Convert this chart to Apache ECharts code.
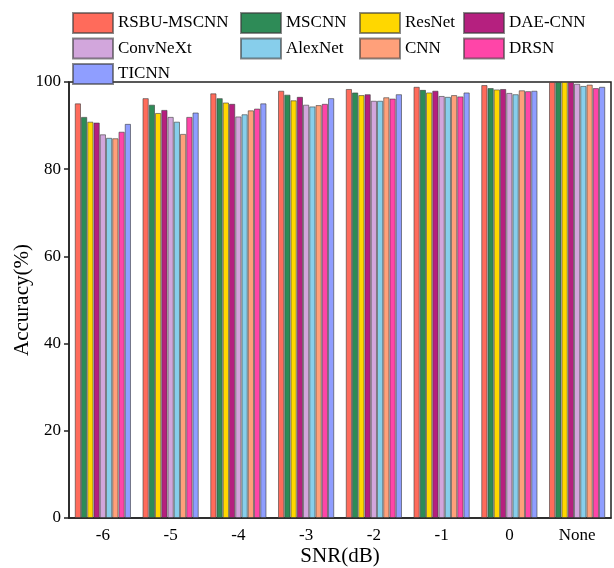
<!DOCTYPE html>
<html>
<head>
<meta charset="utf-8">
<script src="https://cdn.jsdelivr.net/npm/echarts@6/dist/echarts.min.js"></script>
<style>html,body{margin:0;padding:0;background:#fff}#c{width:614px;height:568px}</style>
</head>
<body>
<div id="c"></div>
<script>
const categories = ['-6', '-5', '-4', '-3', '-2', '-1', '0', 'None'];
const seriesNames = ['RSBU-MSCNN', 'MSCNN', 'ResNet', 'DAE-CNN', 'ConvNeXt', 'AlexNet', 'CNN', 'DRSN', 'TICNN'];
const colors = ['#FF6B5B', '#2E8B57', '#FFD700', '#B5207F', '#D2A6DC', '#87CEEB', '#FFA07A', '#FF45A8', '#8F9EFF'];
const rsbuMscnn = [95.1, 96.3, 97.4, 98.0, 98.4, 98.9, 99.3, 100];
const mscnn     = [92.0, 94.8, 96.3, 97.1, 97.6, 98.2, 98.6, 100];
const resnet    = [90.9, 92.9, 95.3, 95.8, 97.0, 97.6, 98.3, 100];
const daeCnn    = [90.7, 93.6, 95.0, 96.6, 97.2, 98.0, 98.4, 100];
const convnext  = [88.0, 92.0, 92.1, 94.8, 95.7, 96.8, 97.5, 99.6];
const alexnet   = [87.2, 90.9, 92.6, 94.4, 95.7, 96.6, 97.2, 99.1];
const cnn       = [87.1, 88.1, 93.5, 94.7, 96.5, 97.0, 98.1, 99.4];
const drsn      = [88.6, 92.0, 93.9, 95.0, 96.2, 96.7, 97.9, 98.6];
const ticnn     = [90.4, 93.0, 95.1, 96.3, 97.2, 97.6, 98.0, 98.9];
const yTicks = [0, 20, 40, 60, 80, 100];

const values = [rsbuMscnn, mscnn, resnet, daeCnn, convnext, alexnet, cnn, drsn, ticnn];
const font = 'Liberation Serif';

const series = seriesNames.map((name, i) => ({
  name: name,
  type: 'bar',
  data: values[i],
  barGap: '0%',
  barCategoryGap: '17%',
  itemStyle: { color: colors[i], borderColor: 'rgba(60,60,60,0.6)', borderWidth: 1 }
}));

const legendCommon = {
  orient: 'vertical',
  top: 12,
  padding: 0,
  itemWidth: 40,
  itemHeight: 20,
  itemGap: 3.5,
  textStyle: { fontFamily: font, fontSize: 17, color: '#000' },
  icon: 'rect'
};

const chart = echarts.init(document.getElementById('c'));
chart.setOption({
  animation: false,
  color: colors,
  legend: [
    Object.assign({}, legendCommon, { left: 72, data: ['RSBU-MSCNN', 'ConvNeXt', 'TICNN'] }),
    Object.assign({}, legendCommon, { left: 240, data: ['MSCNN', 'AlexNet'] }),
    Object.assign({}, legendCommon, { left: 359, data: ['ResNet', 'CNN'] }),
    Object.assign({}, legendCommon, { left: 463, data: ['DAE-CNN', 'DRSN'] })
  ],
  grid: { left: 69, right: 3, top: 82, bottom: 50, show: true, borderColor: '#222', borderWidth: 1.5,
          containLabel: false, outerBoundsMode: 'none' },
  xAxis: {
    type: 'category',
    data: categories,
    name: 'SNR(dB)',
    nameLocation: 'middle',
    nameGap: 28,
    nameMoveOverlap: false,
    nameTextStyle: { fontFamily: font, fontSize: 21, color: '#000' },
    axisLine: { lineStyle: { color: '#222', width: 1.5 } },
    axisTick: { alignWithLabel: true, length: 5, lineStyle: { color: '#222', width: 1.5 } },
    axisLabel: { fontFamily: font, fontSize: 17, color: '#000', margin: 9 }
  },
  yAxis: {
    type: 'value',
    min: 0, max: 100, interval: 20,
    name: 'Accuracy(%)',
    nameLocation: 'middle',
    nameGap: 36,
    nameMoveOverlap: false,
    nameTextStyle: { fontFamily: font, fontSize: 21, color: '#000' },
    axisLine: { show: true, lineStyle: { color: '#222', width: 1.5 } },
    axisTick: { show: true, length: 5, lineStyle: { color: '#222', width: 1.5 } },
    axisLabel: { fontFamily: font, fontSize: 17, color: '#000', margin: 8,
      formatter: v => yTicks.indexOf(v) >= 0 ? String(v) : '' },
    splitLine: { show: false }
  },
  series: series
});
</script>
</body>
</html>
